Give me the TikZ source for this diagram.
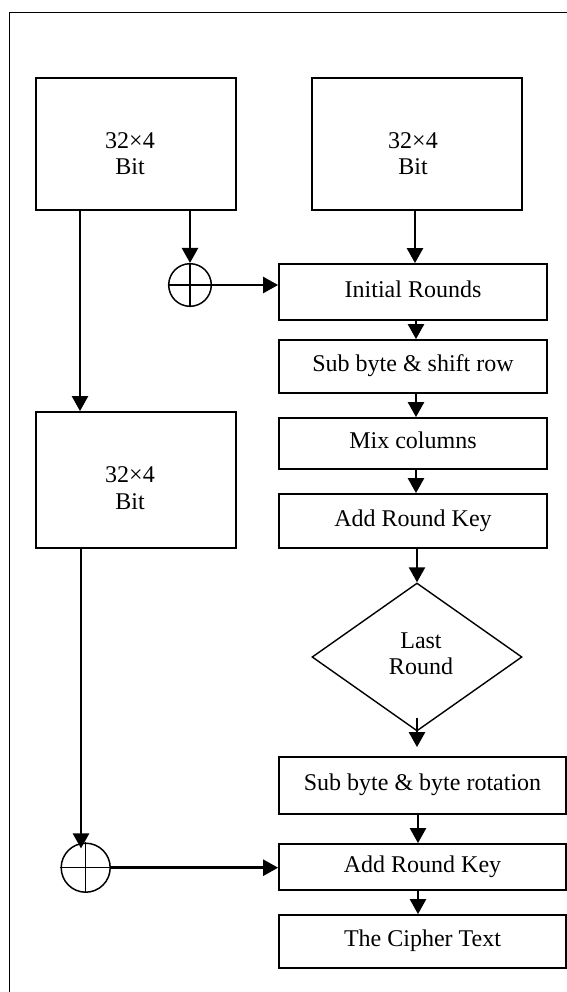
\documentclass[tikz,border=0pt]{standalone}
\usepackage{fontspec}
\setmainfont{Liberation Serif}
\usetikzlibrary{arrows.meta,shapes.geometric}
\begin{document}
\begin{tikzpicture}[x=0.5pt,y=-0.5pt,
  box/.style={draw, line width=0.9pt, rectangle, inner sep=0pt,
    text height=8.4pt, text depth=3pt, font=\fontsize{12}{13}\selectfont},
  lbl/.style={inner sep=0pt, align=center, font=\fontsize{12}{13.2}\selectfont},
  arr/.style={-{Triangle[length=7.5pt,width=8pt]}, line width=1.25pt},
  xorc/.style={draw, circle, line width=0.75pt, inner sep=0pt},
  dec/.style={draw, diamond, line width=0.7pt, inner sep=0pt},
  frameline/.style={line width=0.7pt}]
\useasboundingbox (0,0) rectangle (567,992);
\draw[frameline] (9.3,992) -- (9.3,12.3) -- (567,12.3);

% left and top blocks
\node[box, minimum width=100pt, minimum height=66pt] (A) at (136,144) {};
\node[lbl] (At) at (130,153.5) {32×4\\Bit};
\node[box, minimum width=105pt, minimum height=66pt] (B) at (417,144) {};
\node[lbl] (Bt) at (413,153.5) {32×4\\Bit};
\node[box, minimum width=100pt, minimum height=68pt] (C) at (136,480) {};
\node[lbl] (Ct) at (130,488) {32×4\\Bit};

% right column
\node[box, minimum width=134pt, minimum height=28pt] (I) at (413,292) {Initial Rounds};
\node[box, minimum width=134pt, minimum height=26.5pt] (S1) at (413,366.5) {Sub byte \& shift row};
\node[box, minimum width=134pt, minimum height=25.5pt] (M) at (413,443.5) {Mix columns};
\node[box, minimum width=134pt, minimum height=27pt] (K1) at (413,521) {Add Round Key};
\node[dec, minimum width=105pt, minimum height=74pt] (D) at (417,657) {};
\node[lbl] (Dt) at (421,653.5) {Last\\Round};
\node[box, minimum width=143.5pt, minimum height=28.5pt] (SR) at (422.5,785.5) {Sub byte \& byte rotation};
\node[box, minimum width=143.5pt, minimum height=23pt] (K2) at (422.5,867) {Add Round Key};
\node[box, minimum width=143.5pt, minimum height=26.5pt] (CT) at (422.5,941.5) {The Cipher Text};

% xor symbols
\node[xorc, minimum size=21.3pt] (X1) at (190,285) {};
\draw[line width=0.75pt] (X1.north) -- (X1.south) (X1.west) -- (X1.east);
\node[xorc, minimum size=24.5pt] (X2) at (85.7,867.7) {};
\draw[line width=0.75pt] (X2.north) -- (X2.south) (X2.west) -- (X2.east);

% connectors
\draw[arr] (A.south -| X1) -- (X1.north);
\draw[arr] (X1.east) -- (X1.east -| I.west);
\draw[arr] ([xshift=-1pt]B.south) -- ([xshift=-1pt]B.south |- I.north);
\draw[arr] ([xshift=1.5pt]I.south) -- ([xshift=1.5pt]S1.north);
\draw[arr] ([xshift=1.5pt]S1.south) -- ([xshift=1.5pt]M.north);
\draw[arr] ([xshift=1.5pt]M.south) -- ([xshift=1.5pt]K1.north);
\draw[arr] (K1.south -| D) -- (D.north);
\draw[arr, shorten >=4.5pt] ([yshift=7pt]D.south) -- (D.south |- SR.north);
\draw[arr] ([xshift=-2.25pt]SR.south) -- ([xshift=-2.25pt]K2.north);
\draw[arr] ([xshift=-2.25pt]K2.south) -- ([xshift=-2.25pt]CT.north);
\draw[arr] ([xshift=-28pt]A.south) -- ([xshift=-28pt]A.south |- C.north);
\draw[arr, shorten >=-3pt] ([xshift=-27.5pt]C.south) -- ([xshift=-27.5pt]C.south |- X2.north);
\draw[arr] (X2.east) -- (X2.east -| K2.west);
\end{tikzpicture}
\end{document}
